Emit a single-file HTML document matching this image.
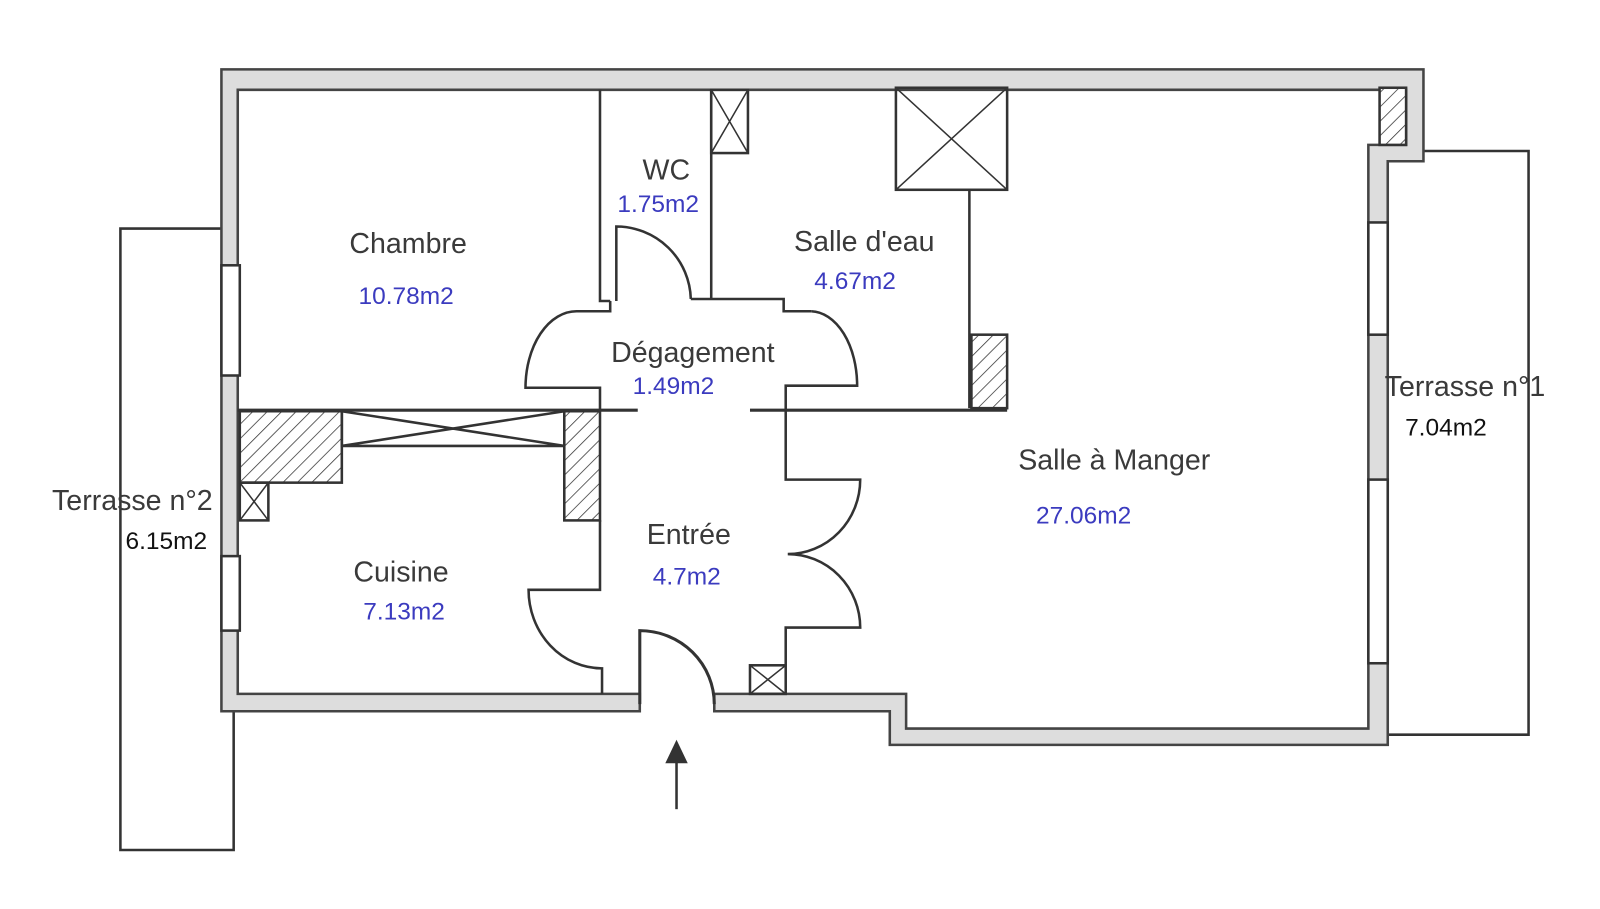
<!DOCTYPE html>
<html><head><meta charset="utf-8"><style>
html,body{margin:0;padding:0;background:#fff}
svg{display:block}
.t{font-family:"Liberation Sans",sans-serif;font-size:28px;fill:#3a3a3a}
.b{font-family:"Liberation Sans",sans-serif;font-size:24px;fill:#3b3bbf}
.k{font-family:"Liberation Sans",sans-serif;font-size:24px;fill:#111}
</style></head><body>
<svg width="1600" height="909" viewBox="0 0 1600 909" xmlns="http://www.w3.org/2000/svg">
<defs>
<pattern id="h" width="10" height="10" patternUnits="userSpaceOnUse" patternTransform="rotate(45)"><rect width="10" height="10" fill="#fff"/><line x1="0" y1="0" x2="0" y2="10" stroke="#333" stroke-width="1.5"/></pattern>
</defs>
<g transform="scale(1.0204)">
<g fill="none" stroke="#333" stroke-width="2.5">
<polyline points="217,224 118,224 118,833 229,833 229,697"/>
<polyline points="1360,148 1498,148 1498,720 1360,720"/>
</g>
<g fill="#ddd" stroke="#444" stroke-width="2.5">
<path d="M217,68 H1395 V158 H1360 V730 H872 V697 H700 V680 H888 V714 H1341 V142 H1378 V88 H233 V680 H627 V697 H217 Z"/>
</g>
<g fill="#fff" stroke="#333" stroke-width="2.5">
<rect x="217" y="260" width="18" height="108"/>
<rect x="217" y="545" width="18" height="73"/>
<rect x="1341" y="218" width="19" height="110"/>
<rect x="1341" y="470" width="19" height="180"/>
</g>
<g fill="url(#h)" stroke="#333" stroke-width="2.5">
<rect x="1352" y="86" width="26" height="56"/>
<rect x="952" y="328" width="35" height="72"/>
<rect x="235" y="403" width="100" height="70"/>
<rect x="553" y="403" width="35" height="107"/>
</g>
<g fill="none" stroke="#333" stroke-width="2.5">
<rect x="697" y="88" width="36" height="62"/><path d="M697,88 L733,150 M733,88 L697,150" stroke-width="1.5"/>
<rect x="878" y="86" width="109" height="100"/><path d="M878,86 L987,186 M987,86 L878,186" stroke-width="1.5"/>
<rect x="235" y="473" width="28" height="37"/><path d="M235,473 L263,510 M263,473 L235,510" stroke-width="1.5"/>
<rect x="735" y="652" width="35" height="28"/><path d="M735,652 L770,680 M770,652 L735,680" stroke-width="1.5"/>
<path d="M335,403 V437 H553 M335,437 L553,403 M335,403 L553,437" />
<path d="M588,88 V295 H598"/>
<path d="M697,88 V293"/>
<path d="M677,293 H768 V305 H795"/>
<path d="M604,295 V222 A73,73 0 0 1 677,293"/>
<path d="M598,295 V305 H565 A50,75 0 0 0 515,380 H588 V402"/>
<path d="M795,305 A46,73 0 0 1 840,378 H770 V402"/>
<path d="M950,186 V400"/>
<path d="M233,402 H625 M735,402 H987" stroke-width="3"/>
<path d="M588,510 V578 H518 A72,77 0 0 0 590,655 V680"/>
<path d="M770,402 V470 H843 A71,73 0 0 1 772,543 A71,72 0 0 1 843,615 H770 V652"/>
<path d="M627,690 V618 A73,72 0 0 1 700,690" stroke-width="3"/>
<path d="M663,793 V740"/>
</g>
<polygon points="663,725 652,748 674,748" fill="#333"/>
<text class="t" x="653" y="176" text-anchor="middle">WC</text>
<text class="b" x="645" y="208" text-anchor="middle">1.75m2</text>
<text class="t" x="400" y="248" text-anchor="middle">Chambre</text>
<text class="b" x="398" y="298" text-anchor="middle">10.78m2</text>
<text class="t" x="847" y="246" text-anchor="middle">Salle d'eau</text>
<text class="b" x="838" y="283" text-anchor="middle">4.67m2</text>
<text class="t" x="679" y="355" text-anchor="middle">Dégagement</text>
<text class="b" x="660" y="386" text-anchor="middle">1.49m2</text>
<text class="t" x="1092" y="460" text-anchor="middle">Salle à Manger</text>
<text class="b" x="1062" y="513" text-anchor="middle">27.06m2</text>
<text class="t" x="675" y="533" text-anchor="middle">Entrée</text>
<text class="b" x="673" y="573" text-anchor="middle">4.7m2</text>
<text class="t" x="393" y="570" text-anchor="middle">Cuisine</text>
<text class="b" x="396" y="607" text-anchor="middle">7.13m2</text>
<text class="t" x="1357" y="388">Terrasse n°1</text>
<text class="k" x="1377" y="427">7.04m2</text>
<text class="t" x="51" y="500">Terrasse n°2</text>
<text class="k" x="123" y="538">6.15m2</text>
</g>
</svg>
</body></html>
